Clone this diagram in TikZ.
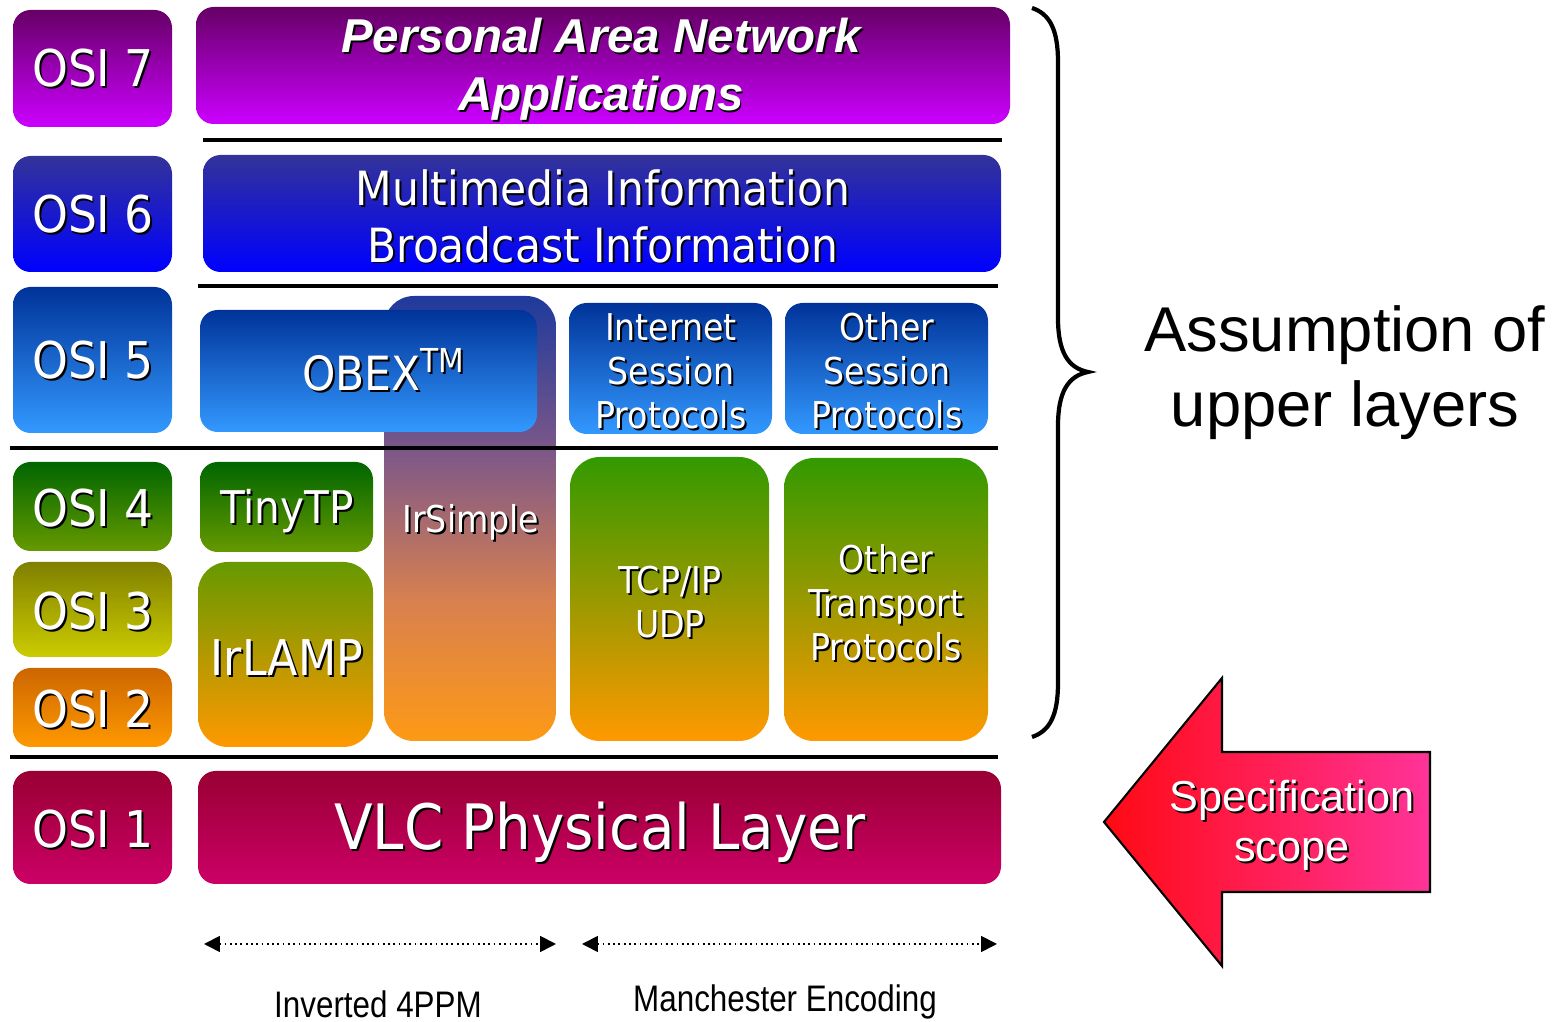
\documentclass[tikz,border=0pt]{standalone}
\usepackage{fontspec}
\setmainfont{DejaVu Sans Condensed}
\newfontfamily\arialf{Liberation Sans}
\newfontfamily\narrowf[FakeStretch=0.85]{Liberation Sans}
\usetikzlibrary{arrows.meta}
\definecolor{c7t}{HTML}{660066}\definecolor{c7b}{HTML}{CC00FF}
\definecolor{c6t}{HTML}{333399}\definecolor{c6b}{HTML}{0000FF}
\definecolor{c5t}{HTML}{003399}\definecolor{c5b}{HTML}{3399FF}
\definecolor{c4t}{HTML}{006600}\definecolor{c4b}{HTML}{669900}
\definecolor{c3t}{HTML}{808000}\definecolor{c3b}{HTML}{CCCC00}
\definecolor{c2t}{HTML}{CC6600}\definecolor{c2b}{HTML}{FF9900}
\definecolor{c1t}{HTML}{990033}\definecolor{c1b}{HTML}{CC0066}
\definecolor{irsa}{HTML}{1E3A9C}\definecolor{irsb}{HTML}{7D5888}
\definecolor{irsc}{HTML}{D88050}\definecolor{irsd}{HTML}{FD9A14}
\definecolor{tcpt}{HTML}{339900}
\definecolor{arl}{HTML}{FF0A14}\definecolor{arr}{HTML}{FF3399}
\newcommand\sh[4][]{%
  \node[lbl,#1,text=black,xshift=0.55pt,yshift=-0.55pt] (#2s) at (#3) {#4};
  \node[lbl,#1] (#2) at (#3) {#4};}
\begin{document}
\begin{tikzpicture}[x=0.01cm,y=-0.01cm,
  lbl/.style={text=white,align=center,inner sep=0pt},
  osi/.style={font=\fontsize{14.4}{16}\selectfont},
  big/.style={font=\fontsize{13.4}{16.2}\selectfont},
  small/.style={font=\fontsize{10.5}{12.5}\selectfont},
  sepline/.style={line width=1.2pt,black},
  rc/.style={rounded corners=5pt},
  rcb/.style={rounded corners=8.5pt}]
\useasboundingbox (0,0) rectangle (1556,1022);
% OSI column
\shade[rc,top color=c7t,bottom color=c7b] (13,10) rectangle (172,127);
\shade[rc,top color=c6t,bottom color=c6b] (13,156) rectangle (172,272);
\shade[rc,top color=c5t,bottom color=c5b] (13,287) rectangle (172,433);
\shade[rc,top color=c4t,bottom color=c4b] (13,462) rectangle (172,551);
\shade[rc,top color=c3t,bottom color=c3b] (13,562) rectangle (172,657);
\shade[rc,top color=c2t,bottom color=c2b] (13,668) rectangle (172,747);
\shade[rc,top color=c1t,bottom color=c1b] (13,771) rectangle (172,884);
\sh[osi]{o7}{93,68}{OSI 7}
\sh[osi]{o6}{93,214}{OSI 6}
\sh[osi]{o5}{93,360}{OSI 5}
\sh[osi]{o4}{93,508}{OSI 4}
\sh[osi]{o3}{93,611}{OSI 3}
\sh[osi]{o2}{93,709}{OSI 2}
\sh[osi]{o1}{93,829}{OSI 1}
% layer 7
\shade[rc,top color=c7t,bottom color=c7b] (196,7) rectangle (1010,124);
\sh[font=\arialf\bfseries\itshape\fontsize{13.5}{16.5}\selectfont]{pan}{601,69}{Personal Area Network\\Applications}
\draw[sepline] (203,140) -- (1002,140);
% layer 6
\shade[rc,top color=c6t,bottom color=c6b] (203,155) rectangle (1001,272);
\sh[big]{mm}{603,216}{Multimedia Information\\Broadcast Information}
\draw[sepline] (198,286) -- (998,286);
% IrSimple (behind OBEX)
\begin{scope}
\clip[rcb] (384,296) rectangle (556,741);
\shade[top color=irsa,bottom color=irsb] (384,295) rectangle (556,453);
\shade[top color=irsb,bottom color=irsc] (384,452) rectangle (556,601);
\shade[top color=irsc,bottom color=irsd] (384,600) rectangle (556,742);
\end{scope}
% layer 5
\shade[rc,top color=c5t,bottom color=c5b] (200,310) rectangle (537,432);
\shade[rc,top color=c5t,bottom color=c5b] (569,303) rectangle (772,434);
\shade[rc,top color=c5t,bottom color=c5b] (785,303) rectangle (988,434);
\sh[big]{obex}{384,370}{OBEX\textsuperscript{TM}}
\sh[small]{iss}{671,371}{Internet\\Session\\Protocols}
\sh[small]{oss}{887,371}{Other\\Session\\Protocols}
\draw[sepline] (10,448) -- (998,448);
% layers 4-2
\shade[rc,top color=c4t,bottom color=c4b] (200,462) rectangle (373,552);
\shade[rcb,top color=c4b,bottom color=c2b] (198,562) rectangle (373,747);
\shade[rcb,top color=tcpt,bottom color=c2b] (570,457) rectangle (769,741);
\shade[rcb,top color=tcpt,bottom color=c2b] (784,458) rectangle (988,741);
\sh[font=\fontsize{12.8}{15}\selectfont]{tiny}{287,511}{TinyTP}
\sh[font=\fontsize{14}{16}\selectfont]{irlamp}{287,658}{IrLAMP}
\sh[small]{irs}{471,522}{IrSimple}
\sh[small]{tcp}{670,602}{TCP/IP\\UDP}
\sh[small]{otp}{886,603}{Other\\Transport\\Protocols}
\draw[sepline] (10,757) -- (998,757);
% layer 1
\shade[rc,top color=c1t,bottom color=c1b] (198,771) rectangle (1001,884);
\sh[font=\fontsize{17.8}{20}\selectfont]{vlc}{600,832}{VLC Physical Layer}
% brace
\draw[line width=1.2pt] (1032,8) .. controls (1050,14) and (1058,30) .. (1058,62) -- (1058,318)
  .. controls (1058,352) and (1068,368) .. (1088,372)
  .. controls (1068,376) and (1058,392) .. (1058,426) -- (1058,683)
  .. controls (1058,715) and (1050,731) .. (1032,737);
\node[inner sep=0pt,align=center,font=\arialf\fontsize{18}{21.3}\selectfont] (assume) at (1345,373) {Assumption of\\upper layers};
% specification arrow
\shade[left color=arl,right color=arr,draw=black,line width=0.6pt]
  (1104,822) -- (1222,678) -- (1222,752) -- (1430,752) -- (1430,892) -- (1222,892) -- (1222,966) -- cycle;
\sh[font=\arialf\fontsize{12.3}{14.2}\selectfont]{spec}{1292,825}{Specification\\scope}
% encoding ranges
\coordinate (a1) at (204,944); \coordinate (a2) at (556,944);
\coordinate (b1) at (582,944); \coordinate (b2) at (997,944);
\draw[densely dotted,line width=0.5pt,{Triangle[length=4.5pt,width=4.5pt]}-{Triangle[length=4.5pt,width=4.5pt]}] (a1) -- (a2);
\draw[densely dotted,line width=0.5pt,{Triangle[length=4.5pt,width=4.5pt]}-{Triangle[length=4.5pt,width=4.5pt]}] (b1) -- (b2);
\node[inner sep=0pt,font=\narrowf\fontsize{10.5}{12}\selectfont] (inv) at (378,1004) {Inverted 4PPM};
\node[inner sep=0pt,font=\narrowf\fontsize{10.5}{12}\selectfont] (man) at (785,1002) {Manchester Encoding};
\end{tikzpicture}
\end{document}
